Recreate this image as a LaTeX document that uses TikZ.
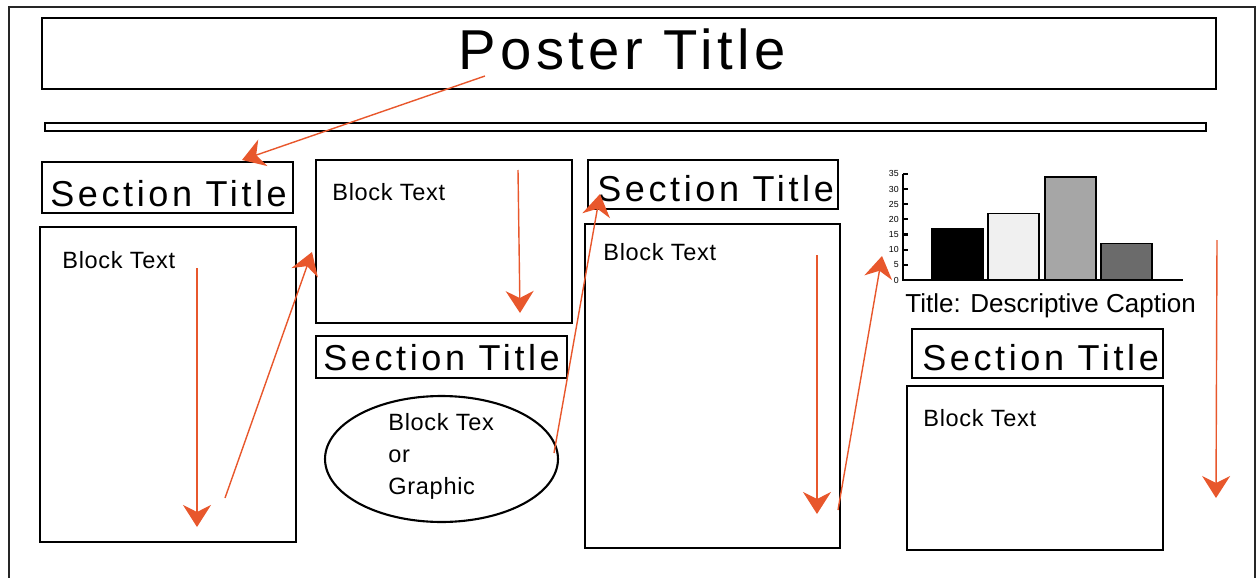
\documentclass[tikz,border=0pt]{standalone}
\usepackage{fontspec}
\setmainfont{Liberation Sans}
\usetikzlibrary{fit,shapes.geometric,arrows.meta}
\definecolor{flowred}{HTML}{E8572C}

\begin{document}
\begin{tikzpicture}
  [x=0.02cm, y=-0.02cm,
   panel/.style={draw, line width=1.2pt, inner sep=0pt},
   flow/.style={draw=flowred, line width=0.8pt, -{Stealth[length=0.44cm, width=0.56cm, inset=0.14cm]}},
   sectitle/.style={anchor=base west, inner sep=0pt, font=\fontsize{20.5}{24}\selectfont\addfontfeature{LetterSpace=10}},
   blocktext/.style={anchor=base west, inner sep=0pt, align=left, font=\fontsize{13.4}{18}\selectfont\addfontfeature{LetterSpace=3}}]
  \useasboundingbox (0,0) rectangle (1258,578);
  % outer frame, open at the bottom
  \draw[line width=1.2pt, black!85] (9,578) -- (9,7) -- (1255,7) -- (1255,578);

  % header
  \node[panel, fit={(42,18) (1216,89)}] (head) {};
  \node[anchor=base west, inner sep=0pt, font=\fontsize{32}{36}\selectfont\addfontfeature{LetterSpace=8}] (ptitle) at (458,70) {Poster Title};
  \node[panel, fit={(45,123) (1206,131)}] (bar) {};

  % column 1
  \node[panel, fit={(42,162) (293,213)}] (sec1) {};
  \node[sectitle] (sectxt1) at (50,206) {Section Title};
  \node[panel, fit={(40,227) (296,542)}] (blk1) {};
  \node[blocktext] (blktxt1) at (62,268) {Block Text};

  % column 2
  \node[panel, fit={(316,160) (572,323)}] (blk2) {};
  \node[blocktext] (blktxt2) at (332,200) {Block Text};
  \node[panel, fit={(316,336) (567,378)}] (sec2) {};
  \node[sectitle] (sectxt2) at (323,370) {Section Title};
  \node[draw, ellipse, line width=1.2pt, inner sep=0pt, minimum width=4.66cm, minimum height=2.52cm] (oval) at (441.5,459) {};
  \node[blocktext] (ovaltxt1) at (388,430) {Block Tex};
  \node[blocktext] (ovaltxt2) at (388,462) {or};
  \node[blocktext] (ovaltxt3) at (388,494) {Graphic};

  % column 3
  \node[panel, fit={(588,160) (838,209)}] (sec3) {};
  \node[sectitle] (sectxt3) at (597,201) {Section Title};
  \node[panel, fit={(585,224) (840,548)}] (blk3) {};
  \node[blocktext] (blktxt3) at (603,260) {Block Text};

  % column 4: chart
  \draw[line width=1.6pt] (903,174) -- (903,281);
  \foreach \v in {0,5,...,35} {
    \draw[line width=1.2pt] (903,{280-3.03*\v}) -- ++(5,0);
    \node[anchor=east, inner sep=0pt, font=\fontsize{5}{5}\selectfont] (tick\v) at (899,{280-3.03*\v}) {\v};
  }
  \foreach \x/\v/\c in {932/17/black,988/22/black!6,1045/34/black!35,1101/12/black!58}
    \draw[fill=\c, line width=0.6pt] (\x,280) rectangle ({\x+51},{280-3.03*\v});
  \draw[line width=1.1pt] (903,280) -- (1183,280);
  \node[anchor=base west, inner sep=0pt, font=\fontsize{14.8}{18}\selectfont] (caption) at (905,312) {Title: Descriptive Caption};

  \node[panel, fit={(912,329) (1163,378)}] (sec4) {};
  \node[sectitle] (sectxt4) at (922,370) {Section Title};
  \node[panel, fit={(907,386) (1163,550)}] (blk4) {};
  \node[blocktext] (blktxt4) at (923,426) {Block Text};

  % reading order
  \coordinate (f1s) at (485,76);   \coordinate (f1e) at (242,160);
  \coordinate (f2s) at (197,268);  \coordinate (f2e) at (197,527);
  \coordinate (f3s) at (225,498);  \coordinate (f3e) at (312,252);
  \coordinate (f4s) at (518,170);  \coordinate (f4e) at (520,313);
  \coordinate (f5s) at (554,453);  \coordinate (f5e) at (600,194);
  \coordinate (f6s) at (817,255);  \coordinate (f6e) at (817,514);
  \coordinate (f7s) at (838,510);  \coordinate (f7e) at (882,256);
  \coordinate (f8s) at (1217,240); \coordinate (f8e) at (1216,498);
  \foreach \a/\b in {f1s/f1e,f2s/f2e,f3s/f3e,f4s/f4e,f5s/f5e,f6s/f6e,f7s/f7e,f8s/f8e}
    \draw[flow] (\a) -- (\b);
\end{tikzpicture}
\end{document}
